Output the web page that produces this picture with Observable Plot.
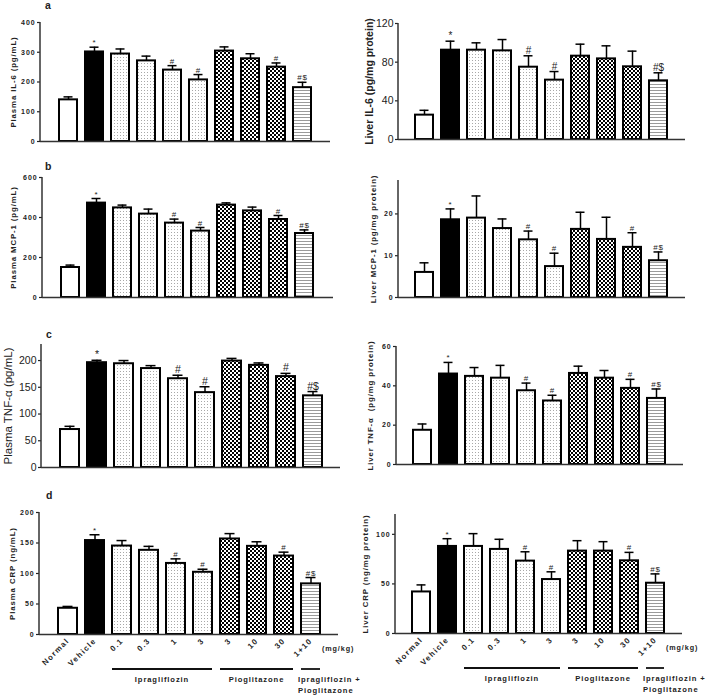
<!DOCTYPE html>
<html>
<head>
<meta charset="utf-8">
<script src="https://cdn.jsdelivr.net/npm/d3@7"></script>
<script src="https://cdn.jsdelivr.net/npm/@observablehq/plot@0.6"></script>
<style>
html, body { margin: 0; padding: 0; background: #fff; }
#root { position: relative; width: 709px; height: 696px; overflow: hidden; font-family: "Liberation Sans", Arial, sans-serif; }
.panel { position: absolute; }
.panel svg { overflow: visible; }
.small text { letter-spacing: 0.9px; }
.small g[aria-label="x-axis tick label"] text { letter-spacing: 1.3px; }
</style>
</head>
<body>
<div id="root">
<svg width="0" height="0" style="position:absolute">
  <defs>
    <pattern id="dots" width="3" height="3" patternUnits="userSpaceOnUse">
      <rect width="3" height="3" fill="#fff"/>
      <rect width="1" height="1" fill="#a8a8a8"/>
    </pattern>
    <pattern id="checker" width="4" height="4" patternUnits="userSpaceOnUse">
      <rect width="4" height="4" fill="#fff"/>
      <rect width="2" height="2" fill="#000"/>
      <rect x="2" y="2" width="2" height="2" fill="#000"/>
    </pattern>
    <pattern id="stripes" width="4" height="3" patternUnits="userSpaceOnUse">
      <rect width="4" height="3" fill="#fff"/>
      <rect width="4" height="1" fill="#9a9a9a"/>
    </pattern>
  </defs>
</svg>
</div>
<script>
// ---------- data ----------
const categories = ["Normal", "Vehicle", "Ipra 0.1", "Ipra 0.3", "Ipra 1", "Ipra 3", "Pio 3", "Pio 10", "Pio 30", "Combo 1+10"];
const tickLabels = ["Normal", "Vehicle", "0.1", "0.3", "1", "3", "3", "10", "30", "1+10"];
const groups = ["normal", "vehicle", "ipra", "ipra", "ipra", "ipra", "pio", "pio", "pio", "combo"];

const plasmaIL6 = [140, 301, 294, 271, 240, 207, 304, 278, 250, 181];
const plasmaIL6Err = [10, 16, 17, 16, 15, 18, 14, 17, 14, 18];
const liverIL6 = [25.2, 92.4, 92.4, 91.7, 74.8, 61.4, 86.2, 83.4, 75.2, 60.7];
const liverIL6Err = [5, 9.3, 7.6, 11.7, 11.8, 8.9, 12.4, 13.5, 16.2, 8.3];

const plasmaMCP1 = [150, 472, 448, 417, 372, 332, 462, 433, 390, 320];
const plasmaMCP1Err = [12, 23, 14, 25, 20, 18, 11, 19, 20, 18];
const liverMCP1 = [6.0, 18.6, 19.0, 16.5, 13.8, 7.4, 16.3, 13.9, 12.0, 8.8];
const liverMCP1Err = [2.3, 2.6, 5.3, 2.3, 2.1, 3.2, 4.1, 5.3, 3.5, 2.1];

const plasmaTNF = [71, 196, 194, 185, 166, 140, 199, 191, 170, 134];
const plasmaTNFErr = [6, 4.5, 6, 5.5, 6.5, 11, 5, 4.5, 6, 8];
const liverTNF = [17.4, 46, 44.8, 43.9, 37.5, 32.3, 46.3, 43.9, 38.7, 33.6];
const liverTNFErr = [3.2, 5.9, 4.5, 6.5, 3.9, 2.9, 3.7, 3.9, 4.6, 4.8];

const plasmaCRP = [43, 154, 145, 138, 116.5, 102, 156.6, 144.5, 128.6, 83];
const plasmaCRPErr = [3, 9.5, 9, 6.5, 7.5, 5, 8.8, 7.5, 6.4, 10.4];
const liverCRP = [41.9, 87.8, 87.8, 84.8, 73, 54.4, 83.1, 83.1, 73.3, 50.7];
const liverCRPErr = [7.1, 7.8, 12.9, 10.2, 9.4, 7.8, 10.5, 9.5, 8.5, 9.4];

const annotations = ["", "*", "", "", "#", "#", "", "", "#", "#$"];
const liverIL6Annotations = ["", "*", "", "", "#", "#", "", "", "", "#$"];

const groupSpans = [
  {from: "Ipra 0.1", to: "Ipra 3", lines: ["Ipragliflozin"], align: "middle"},
  {from: "Pio 3", to: "Pio 30", lines: ["Pioglitazone"], align: "middle"},
  {from: "Combo 1+10", to: "Combo 1+10", lines: ["Ipragliflozin +", "Pioglitazone"], align: "start"}
];
const unitLabel = "(mg/kg)";

// ---------- styles ----------
const groupFill = {normal: "#ffffff", vehicle: "#000000", ipra: "url(#dots)", pio: "url(#checker)", combo: "url(#stripes)"};
const labelFor = Object.fromEntries(categories.map((c, i) => [c, tickLabels[i]]));

const panels = [
  {letter: "a", letterX: 45, letterY: 9, left: 0, top: 0, width: 355, height: 160, ml: 40, mt: 22, mb: 19, mr: 25,
   yLabel: "Plasma IL-6 (pg/mL)", values: plasmaIL6, errs: plasmaIL6Err, ann: annotations, yMax: 400, ticks: [0, 100, 200, 300, 400], style: "small", labelX: 13},
  {left: 355, top: 0, width: 354, height: 160, ml: 43, mt: 23, mb: 21, mr: 24,
   yLabel: "Liver IL-6 (pg/mg protein)", values: liverIL6, errs: liverIL6Err, ann: liverIL6Annotations, yMax: 120, ticks: [0, 40, 80, 120], style: "largeBold", labelX: 14},
  {letter: "b", letterX: 45, letterY: 10, left: 0, top: 160, width: 355, height: 160, ml: 42, mt: 17, mb: 23, mr: 22,
   yLabel: "Plasma MCP-1 (pg/mL)", values: plasmaMCP1, errs: plasmaMCP1Err, ann: annotations, yMax: 600, ticks: [0, 200, 400, 600], style: "small", labelX: 13},
  {left: 355, top: 160, width: 354, height: 160, ml: 43, mt: 20, mb: 23, mr: 24,
   yLabel: "Liver MCP-1 (pg/mg protein)", values: liverMCP1, errs: liverMCP1Err, ann: annotations, yMax: 28, ticks: [0, 10, 20], style: "small", labelX: 18},
  {letter: "c", letterX: 46, letterY: 17.5, left: 0, top: 320, width: 355, height: 160, ml: 41, mt: 24, mb: 13, mr: 15,
   yLabel: "Plasma TNF-\u03b1 (pg/mL)", values: plasmaTNF, errs: plasmaTNFErr, ann: annotations, yMax: 230, ticks: [0, 50, 100, 150, 200], style: "large", labelX: 8},
  {left: 355, top: 320, width: 354, height: 160, ml: 41, mt: 26, mb: 16, mr: 26,
   yLabel: "Liver TNF-\u03b1  (pg/mg protein)", values: liverTNF, errs: liverTNFErr, ann: annotations, yMax: 60, ticks: [0, 20, 40, 60], style: "small", labelX: 15},
  {letter: "d", letterX: 46, letterY: 19, left: 0, top: 480, width: 355, height: 216, ml: 39, mt: 32, mb: 62, mr: 17,
   yLabel: "Plasma CRP (ng/mL)", values: plasmaCRP, errs: plasmaCRPErr, ann: annotations, yMax: 200, ticks: [0, 50, 100, 150, 200], style: "small", labelX: 12, xLabels: true},
  {left: 355, top: 480, width: 354, height: 216, ml: 40, mt: 34, mb: 63, mr: 27,
   yLabel: "Liver CRP (ng/mg protein)", values: liverCRP, errs: liverCRPErr, ann: annotations, yMax: 120, ticks: [0, 50, 100], style: "small", labelX: 10, xLabels: true}
];

const fontSpecs = {
  small: {tick: 7, tickWeight: "bold", label: 7.8, labelWeight: "bold", ann: 8},
  large: {tick: 10.5, tickWeight: "normal", label: 11.5, labelWeight: "normal", ann: 10.5},
  largeBold: {tick: 10.5, tickWeight: "normal", label: 10.5, labelWeight: "bold", ann: 10}
};

const root = document.getElementById("root");

for (const cfg of panels) {
  const f = fontSpecs[cfg.style];
  const data = categories.map((c, i) => ({cat: c, group: groups[i], v: cfg.values[i], e: cfg.errs[i], ann: cfg.ann[i]}));
  const marks = [
    Plot.barY(data, {x: "cat", y: "v", fill: d => groupFill[d.group], stroke: "#000", strokeWidth: 2}),
    Plot.ruleX(data, {x: "cat", y1: "v", y2: d => d.v + d.e, stroke: "#000", strokeWidth: 1.5}),
    Plot.tickY(data, {x: "cat", y: d => d.v + d.e, stroke: "#000", strokeWidth: 1.5, inset: 4.5}),
    Plot.text(data, {x: "cat", y: d => d.v + d.e, text: "ann", dy: -2, lineAnchor: "bottom", fontSize: f.ann, fill: "#222"}),
    Plot.ruleY([0], {stroke: "#333", strokeWidth: 1.5}),
    Plot.axisY({ticks: cfg.ticks, tickSize: 3, tickPadding: 2, label: null, fontSize: f.tick, fontWeight: f.tickWeight, color: "#222", strokeWidth: 1.2}),
    Plot.text([cfg.yLabel], {text: d => d, frameAnchor: "left", textAnchor: "middle", lineAnchor: "middle", rotate: -90, dx: cfg.labelX - cfg.ml, fontSize: f.label, fontWeight: f.labelWeight, fill: "#222"})
  ];
  if (cfg.xLabels) {
    marks.push(Plot.axisX({tickFormat: d => labelFor[d], tickRotate: -45, tickSize: 0, tickPadding: 5, label: null, fontSize: 7.8, fontWeight: "bold", color: "#222"}));
  }
  const chart = Plot.plot({
    width: cfg.width, height: cfg.height,
    marginLeft: cfg.ml, marginTop: cfg.mt, marginBottom: cfg.mb, marginRight: cfg.mr,
    className: cfg.style === "small" ? "small" : "large",
    style: {background: "transparent", fontFamily: "'Liberation Sans', Arial, sans-serif", color: "#222", overflow: "visible"},
    x: {type: "band", domain: categories, paddingInner: 0.3, paddingOuter: 0.55, ...(cfg.xLabels ? {} : {axis: null})},
    y: {domain: [0, cfg.yMax]},
    color: {type: "identity"},
    marks
  });
  const svg = d3.select(chart);
  const ys = chart.scale("y"), xs = chart.scale("x");
  // y axis line
  svg.append("line")
    .attr("x1", cfg.ml).attr("x2", cfg.ml)
    .attr("y1", ys.apply(0)).attr("y2", ys.apply(cfg.yMax))
    .attr("stroke", "#333").attr("stroke-width", 1.5);
  if (cfg.letter) {
    svg.append("text").attr("x", cfg.letterX).attr("y", cfg.letterY)
      .attr("font-size", 10.5).attr("font-weight", "bold").attr("fill", "#222")
      .style("letter-spacing", "0px").attr("text-anchor", "start").text(cfg.letter);
  }
  if (cfg.xLabels) {
    const fb = cfg.height - cfg.mb;
    const bw = xs.bandwidth;
    const last = categories[categories.length - 1];
    svg.append("text").attr("x", xs.apply(last) + bw + 2).attr("y", fb + 17)
      .attr("font-size", 7.2).attr("font-weight", "bold").attr("fill", "#222")
      .attr("text-anchor", "start").text(unitLabel);
    for (const g of groupSpans) {
      const x1 = xs.apply(g.from), x2 = xs.apply(g.to) + bw;
      svg.append("line").attr("x1", x1).attr("x2", x2).attr("y1", fb + 35).attr("y2", fb + 35)
        .attr("stroke", "#111").attr("stroke-width", 1.8);
      g.lines.forEach((t, k) => {
        svg.append("text")
          .attr("x", g.align === "middle" ? (x1 + x2) / 2 : x1 - 3)
          .attr("y", fb + 48 + k * 11)
          .attr("font-size", 7.6).attr("font-weight", "bold").attr("fill", "#222")
          .attr("text-anchor", g.align).text(t);
      });
    }
  }
  const div = document.createElement("div");
  div.className = "panel";
  div.style.left = cfg.left + "px";
  div.style.top = cfg.top + "px";
  div.appendChild(chart);
  root.appendChild(div);
}
</script>
</body>
</html>
